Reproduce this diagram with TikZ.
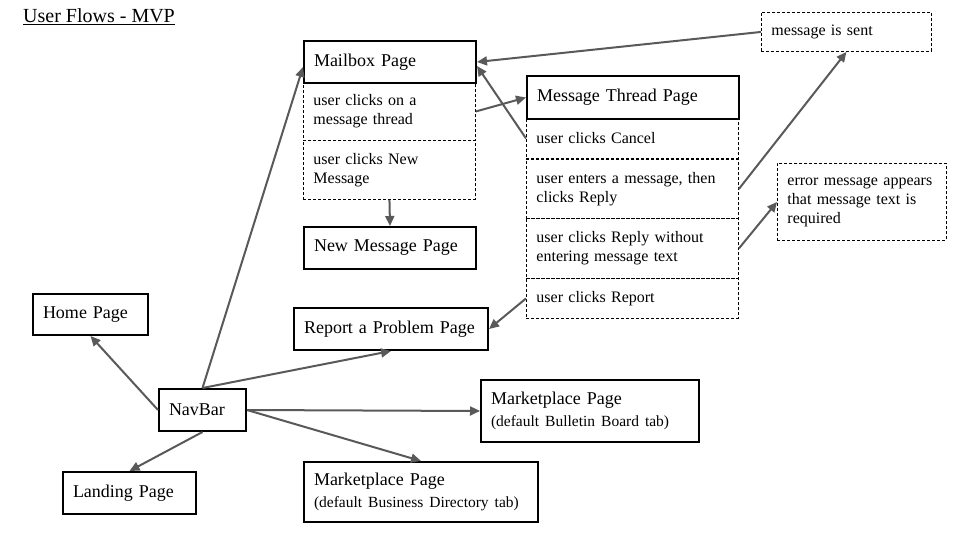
\documentclass[tikz,border=0pt]{standalone}
\usepackage{fontspec}
\setmainfont{Liberation Serif}
\usepackage{tikz}
\usetikzlibrary{arrows.meta}

\definecolor{flowgrey}{RGB}{89,89,89}

\begin{document}
\begin{tikzpicture}[x=1pt,y=-1pt]
    \tikzset{
    page/.style={
        draw, line width=2pt, anchor=north west,
        inner xsep=10pt, inner ysep=0pt, align=left,
        font={\fontsize{18}{22}\selectfont}
    },
    action/.style={
        draw, line width=0.9pt, dash pattern=on 3pt off 2pt, anchor=north west,
        inner xsep=10pt, inner ysep=0pt, align=left,
        font={\fontsize{16}{19}\selectfont}
    },
    flow/.style={
        -{Triangle[length=10pt,width=9pt]}, line width=2pt, draw=flowgrey
    }
    }
        \useasboundingbox (0,0) rectangle (960,540);

        \node (title)[anchor=base west, inner sep=0pt, font={\fontsize{20}{24}\selectfont}] at (23,23) {\underline{User Flows - MVP}};

        \node (clickthread)[action, text width=152pt, minimum height=58pt] at (303,82) {user clicks on a\\message thread};
        \node (clicknew)[action, text width=152pt, minimum height=59pt] at (303,140) {user clicks New\\Message};
        \node (mailbox)[page, text width=152pt, minimum height=42pt] at (303,40) {Mailbox Page};
        \node (newmsg)[page, text width=152pt, minimum height=42pt] at (303,226) {New Message Page};

        \node (cancel)[action, text width=192pt, minimum height=40pt] at (526,118) {user clicks Cancel};
        \node (reply)[action, text width=192pt, minimum height=59pt] at (526,159) {user enters a message, then\\clicks Reply};
        \node (noreply)[action, text width=192pt, minimum height=60pt] at (526,218) {user clicks Reply without\\entering message text};
        \node (clickreport)[action, text width=192pt, minimum height=40pt] at (526,278) {user clicks Report};
        \node (thread)[page, text width=192pt, minimum height=43pt] at (526,75) {Message Thread Page};

        \node (sent)[action, text width=150pt, minimum height=39pt] at (761,12) {message is sent};
        \node (error)[action, text width=149pt, minimum height=77pt] at (777,163) {error message appears\\that message text is\\required};

        \node (home)[page, text width=95pt, minimum height=41pt] at (32,293) {Home Page};
        \node (report)[page, text width=174pt, minimum height=42pt] at (293,307) {Report a Problem Page};
        \node (navbar)[page, text width=67pt, minimum height=42pt] at (158,388) {NavBar};
        \node (mpbb)[page, text width=198pt, minimum height=62pt] at (480,379) {Marketplace Page\\{\fontsize{15.5}{19}\selectfont (default Bulletin Board tab)}};
        \node (landing)[page, text width=113pt, minimum height=42pt] at (62,471) {Landing Page};
        \node (mpbd)[page, text width=214pt, minimum height=60pt] at (303,461) {Marketplace Page\\{\fontsize{15.5}{19}\selectfont (default Business Directory tab)}};

        \draw[flow] (navbar.north) -- ([yshift=-5pt]mailbox.west);
        \draw[flow] (navbar.north) -- (report.south);
        \draw[flow] (navbar.west) -- (home.south);
        \draw[flow] (navbar.south) -- (landing.north);
        \draw[flow] (navbar.east) -- (mpbb.west);
        \draw[flow] (navbar.east) -- (mpbd.north);

        \draw[flow] (clickthread.east) -- (thread.west);
        \draw[flow] (clicknew.south) -- (newmsg.north);
        \draw[flow] (cancel.west) -- ([yshift=-4pt]mailbox.east);
        \draw[flow] (sent.west) -- (mailbox.east);
        \draw[flow] (reply.east) -- (sent.south);
        \draw[flow] (noreply.east) -- (error.west);
        \draw[flow] (clickreport.west) -- (report.east);

    \end{tikzpicture}
\end{document}
